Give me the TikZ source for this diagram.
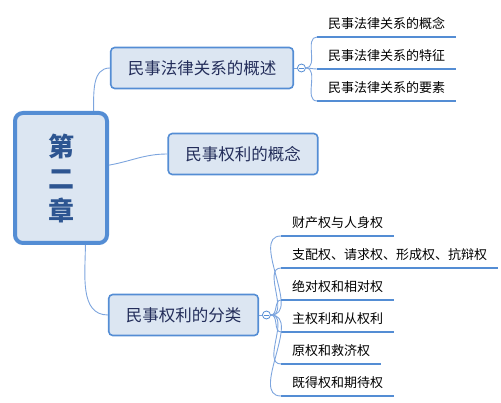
\documentclass[tikz,border=0pt]{standalone}
\usepackage{fontspec}
\newfontfamily\cjk{Noto Sans CJK SC}
\usetikzlibrary{positioning, calc}
\definecolor{mapblue}{RGB}{84,141,212}
\definecolor{mapfill}{RGB}{220,230,242}
\definecolor{mapline}{RGB}{125,165,222}
\definecolor{maptext}{RGB}{35,45,90}
\definecolor{titleblue}{RGB}{45,85,145}

\begin{document}
\begin{tikzpicture}[x=1pt, y=-1pt,
        root/.style={rectangle, draw=mapblue, line width=4pt, fill=mapfill, rounded corners=8pt,
            minimum width=92pt, minimum height=130pt, align=center, text=titleblue,
            font=\cjk\bfseries\fontsize{26}{32}\selectfont},
        topic/.style={rectangle, draw=mapblue, line width=1.6pt, fill=mapfill, rounded corners=4pt,
            minimum height=41pt, inner xsep=17pt, text=maptext, font=\cjk\fontsize{16.5}{18}\selectfont},
        leaf/.style={anchor=south west, inner xsep=11pt, inner ysep=5pt, text height=10pt, text depth=3pt,
            font=\cjk\fontsize{13}{15}\selectfont},
        toggle/.style={circle, draw=mapblue, line width=0.8pt, fill=white, minimum size=8pt, inner sep=0pt,
            path picture={\draw[mapblue, line width=0.8pt] ([xshift=-2.2pt]path picture bounding box.center)
                -- ([xshift=2.2pt]path picture bounding box.center);}},
        link/.style={draw=mapline, line width=0.9pt},
        uline/.style={draw=mapblue, line width=2.6pt}
    ]
        \useasboundingbox (0,0) rectangle (501,403);

        % centre
        \node[root] (main) at (61,178) {第\\二\\章};

        % topics
        \node[topic] (ovw) at (202,68) {民事法律关系的概述};
        \node[topic] (cpt) at (243,154) {民事权利的概念};
        \node[topic] (cls) at (183.5,315) {民事权利的分类};

        \node[toggle, right=3pt of ovw] (kovw) {};
        \node[toggle, right=3pt of cls] (kcls) {};

        \draw[link] (main.64) to[out=90, in=180] (ovw.west);
        \draw[link] (main.15) to[out=10, in=180] (cpt.west);
        \draw[link] (main.-70) to[out=-90, in=180] (cls.west);
        \draw[link] (ovw.east) -- (kovw);
        \draw[link] (cls.east) -- (kcls);

        % leaves of the first topic
        \node[leaf] (lc1) at (317,37) {民事法律关系的概念};
        \node[leaf] (lc2) at (317,69) {民事法律关系的特征};
        \node[leaf] (lc3) at (317,101) {民事法律关系的要素};

        % leaves of the third topic
        \node[leaf] (rt1) at (281,236) {财产权与人身权};
        \node[leaf] (rt2) at (281,268) {支配权、请求权、形成权、抗辩权};
        \node[leaf] (rt3) at (281,300) {绝对权和相对权};
        \node[leaf] (rt4) at (281,332) {主权利和从权利};
        \node[leaf] (rt5) at (281,364) {原权和救济权};
        \node[leaf] (rt6) at (281,396) {既得权和期待权};

        \foreach \n in {lc1,lc2,lc3} {
            \draw[link] (kovw.east) to[out=0, in=180] (\n.south west);
            \draw[uline] (\n.south west) -- (\n.south east);
        }
        \foreach \n in {rt1,rt2,rt3,rt4,rt5,rt6} {
            \draw[link] (kcls.east) to[out=0, in=180] (\n.south west);
            \draw[uline] (\n.south west) -- (\n.south east);
        }
    \end{tikzpicture}
\end{document}
